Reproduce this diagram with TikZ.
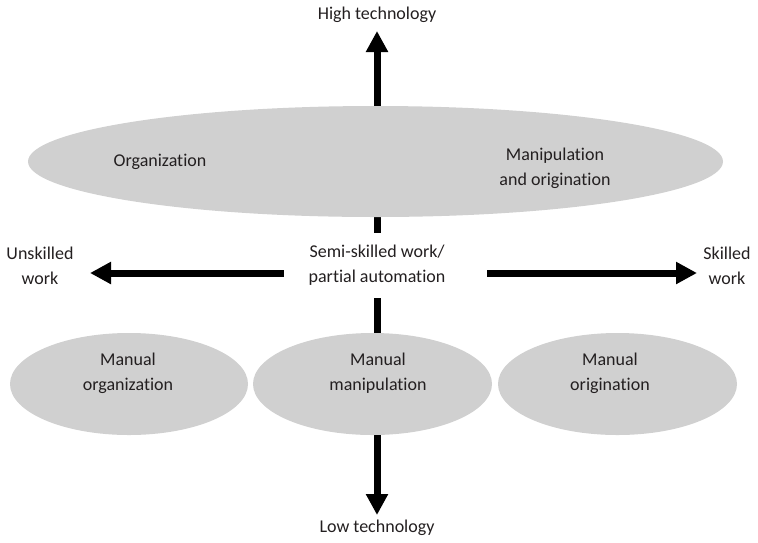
\documentclass[tikz,border=0pt]{standalone}
\usepackage{fontspec}
\setmainfont[Ligatures=NoCommon]{Carlito}
\usetikzlibrary{arrows.meta,shapes.geometric}
\definecolor{ellgray}{HTML}{D0D0D0}
\definecolor{txt}{HTML}{231F20}
\tikzset{
  lbl/.style={text=txt,align=center,font=\fontsize{18}{25}\selectfont,inner sep=0pt},
  blob/.style={ellipse,fill=ellgray,draw=none,inner sep=0pt},
  arr/.style={line width=7pt,draw=black,-{Triangle[width=21pt,length=21pt]}}
}
\begin{document}
\begin{tikzpicture}[x=1pt,y=-1pt]
\useasboundingbox (0,0) rectangle (758,542);
% centre label with white box
\node[lbl,fill=white,minimum width=202pt,minimum height=65pt] (mid) at (377,265.5) {Semi-skilled work/\\partial automation};
% arrow ends
\coordinate (ht) at (377,31);
\coordinate (lt) at (377,515);
\coordinate (ul) at (90,273);
\coordinate (sk) at (697,273);
\draw[arr] (mid.north -| ht) -- (ht);
\draw[arr] (mid.south -| lt) -- (lt);
\draw[arr] ([xshift=8pt]mid.west |- ul) -- (ul);
\draw[arr] ([xshift=9pt]mid.east |- sk) -- (sk);
% ellipses
\node[blob,minimum width=695pt,minimum height=111pt] (top) at (375.5,161.5) {};
\node[blob,minimum width=238pt,minimum height=102pt] (e1) at (129,384) {};
\node[blob,minimum width=239pt,minimum height=102pt] (e2) at (372.5,384) {};
\node[blob,minimum width=239pt,minimum height=102pt] (e3) at (617.5,384) {};
% texts
\node[lbl] (org) at (160,162) {Organization};
\node[lbl] (mo) at (555,168) {Manipulation\\and origination};
\node[lbl] (t1) at (128,373) {Manual\\organization};
\node[lbl] (t2) at (378,373) {Manual\\manipulation};
\node[lbl] (t3) at (610,373) {Manual\\origination};
\node[lbl] (high) at (377,15) {High technology};
\node[lbl] (low) at (377,528) {Low technology};
\node[lbl] (unsk) at (40,266) {Unskilled\\work};
\node[lbl] (skl) at (727,266) {Skilled\\work};
\end{tikzpicture}
\end{document}
